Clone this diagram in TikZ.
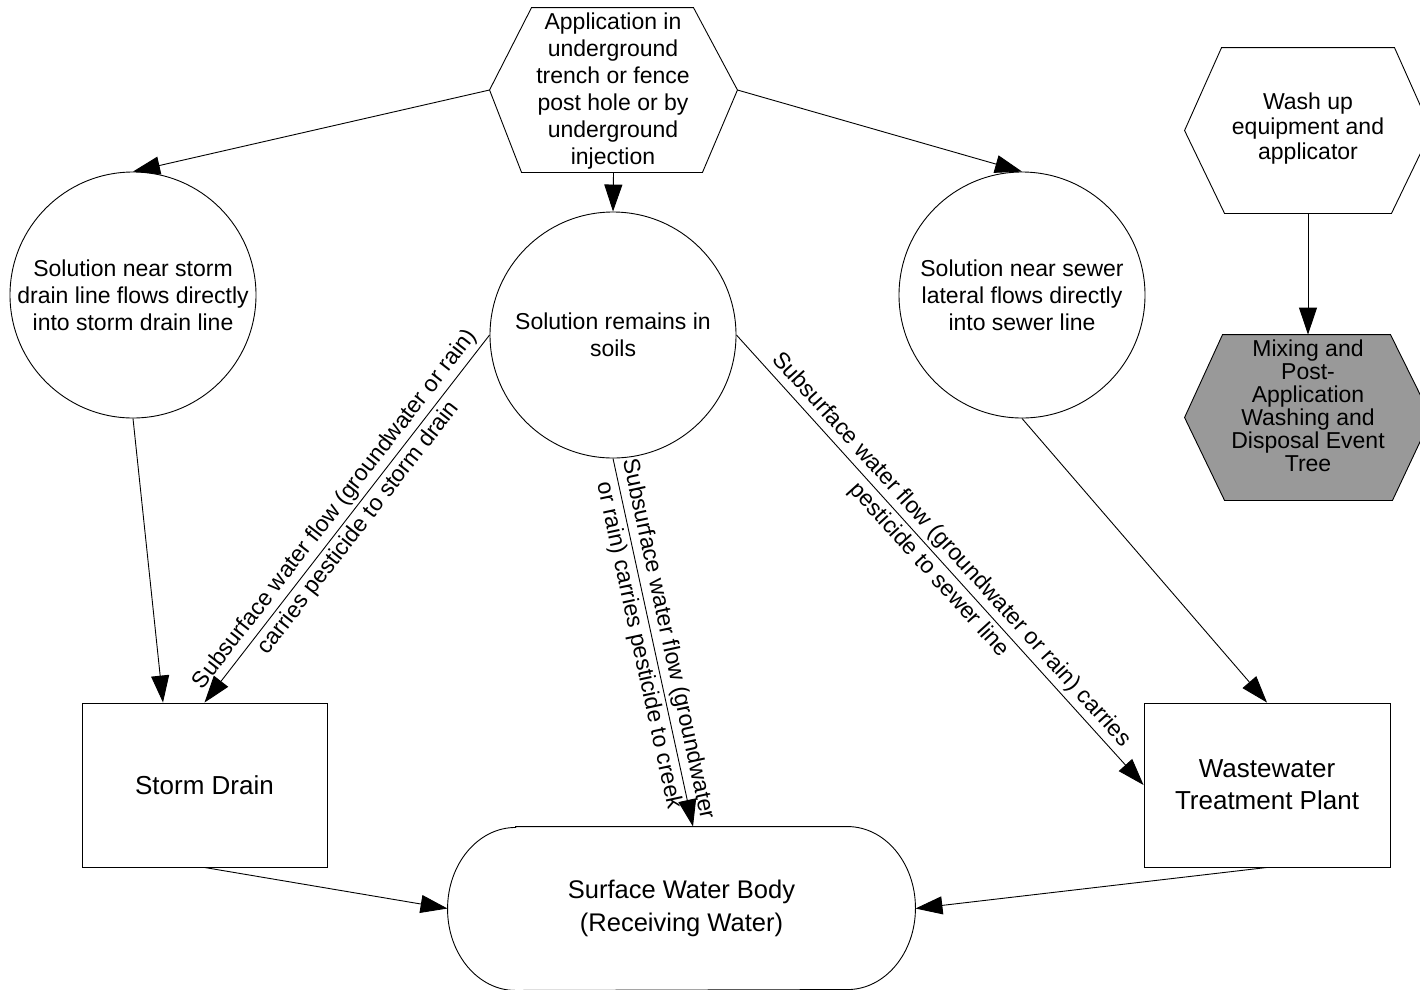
\documentclass[tikz,border=0pt]{standalone}
\usepackage{fontspec}
\setmainfont{Liberation Sans}
\usetikzlibrary{arrows.meta,calc}
\definecolor{evtgray}{HTML}{999999}

\tikzset{
  smalltxt/.style={font=\fontsize{23}{27}\selectfont, align=center},
  bigtxt/.style={font=\fontsize{26}{32}\selectfont, align=center},
  bubble/.style={circle, draw, minimum size=246pt, inner sep=0pt, smalltxt},
  boxnode/.style={draw, minimum height=164pt, inner sep=0pt, bigtxt},
  frame/.style={draw=none, inner sep=0pt, minimum width=246pt, minimum height=165pt},
  flow/.style={draw, -{Triangle[length=27pt,width=18pt]}},
  flowlabel/.style={sloped, font=\fontsize{23}{30}\selectfont, align=center, inner sep=0pt}
}

\begin{document}
\begin{tikzpicture}[x=1pt, y=-1pt, line width=0.9pt]
  \useasboundingbox (0,0) rectangle (1420,989);
  \fill[white] (0,0) rectangle (1420,989);

  % application hexagon
  \node[frame, minimum width=247pt, minimum height=164pt] (appframe) at (613.5,90) {};
  \draw (appframe.west) -- ([xshift=42pt]appframe.north west)
        -- ([xshift=-44pt]appframe.north east) -- (appframe.east)
        -- ([xshift=-35pt]appframe.south east) -- ([xshift=32pt]appframe.south west) -- cycle;
  \node[smalltxt] (app) at (613,91) {Application in\\underground\\trench or fence\\post hole or by\\underground\\injection};

  % wash-up hexagon
  \node[frame] (washframe) at (1308,130.5) {};
  \draw (washframe.west) -- ([xshift=37pt]washframe.north west)
        -- ([xshift=-37pt]washframe.north east) -- (washframe.east)
        -- ([xshift=-40pt]washframe.south east) -- ([xshift=40pt]washframe.south west) -- cycle;
  \node[font=\fontsize{23}{25}\selectfont, align=center] (wash) at (1308,129) {Wash up\\equipment and\\applicator};

  % linked event tree hexagon
  \node[frame] (evtframe) at (1308,417.5) {};
  \draw[fill=evtgray] (evtframe.west) -- ([xshift=38pt]evtframe.north west)
        -- ([xshift=-41pt]evtframe.north east) -- (evtframe.east)
        -- ([xshift=-39pt]evtframe.south east) -- ([xshift=40pt]evtframe.south west) -- cycle;
  \node[font=\fontsize{23}{23}\selectfont, align=center] (evt) at (1308,406) {Mixing and\\Post-\\Application\\Washing and\\Disposal Event\\Tree};

  % circles
  \node[bubble] (lc) at (133,295) {Solution near storm\\drain line flows directly\\into storm drain line};
  \node[bubble] (mc) at (613,335) {Solution remains in\\soils};
  \node[bubble] (rc) at (1022,295) {Solution near sewer\\lateral flows directly\\into sewer line};

  % boxes
  \node[boxnode, minimum width=245pt] (sd) at (204.5,785) {Storm Drain};
  \node[boxnode, minimum width=246pt] (wt) at (1267,785) {Wastewater\\Treatment Plant};

  % receiving water body (stadium outline)
  \node[draw=none, inner sep=0pt, minimum width=467pt, minimum height=163pt] (swframe) at (681.5,908.5) {};
  \draw ([xshift=68pt]swframe.north west) -- ([xshift=-68pt]swframe.north east)
        arc[start angle=90, end angle=-90, x radius=68pt, y radius=81.5pt]
        -- ([xshift=68pt]swframe.south west)
        arc[start angle=270, end angle=90, x radius=68pt, y radius=81.5pt] -- cycle;
  \node[font=\fontsize{25.5}{33}\selectfont, align=center] (sw) at (681.5,908) {Surface Water Body\\(Receiving Water)};

  % connectors
  \draw[flow] (appframe.west) -- (lc.north);
  \draw[flow] (appframe.south) -- (mc.north);
  \draw[flow] (appframe.east) -- (rc.north);
  \draw[flow] (lc.south) -- ([xshift=-41.5pt]sd.north);
  \draw[flow] (mc.west) -- node[flowlabel] {Subsurface water flow (groundwater or rain)\\carries pesticide to storm drain} (sd.north);
  \draw[flow] (mc.south) -- node[flowlabel] {Subsurface water flow (groundwater\\or rain) carries pesticide to creek} ([xshift=11.5pt]swframe.north);
  \draw[flow] (mc.east) -- node[flowlabel] {Subsurface water flow (groundwater or rain) carries\\pesticide to sewer line} (wt.west);
  \draw[flow] (rc.south) -- (wt.north);
  \draw[flow] (sd.south) -- (swframe.west);
  \draw[flow] (wt.south) -- (swframe.east);
  \draw[flow] (washframe.south) -- (evtframe.north);
\end{tikzpicture}
\end{document}
